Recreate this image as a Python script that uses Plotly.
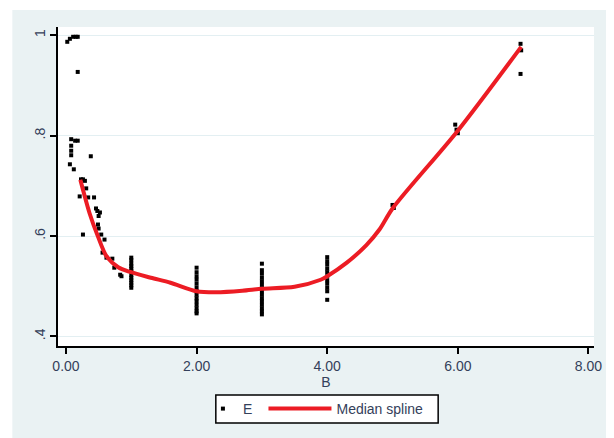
import plotly.graph_objects as go

# scatter data "E"
e_x = [0.02, 0.06, 0.11, 0.15, 0.18, 0.18,
       0.08, 0.14, 0.18, 0.08, 0.08, 0.08, 0.38, 0.06, 0.12,
       0.23, 0.26, 0.29, 0.31, 0.21, 0.34, 0.43,
       0.46, 0.48, 0.52, 0.50, 0.49, 0.50, 0.26, 0.54, 0.59,
       0.56, 0.62, 0.71, 0.74, 0.83, 0.85,
       1, 1, 1, 1, 1, 1, 1, 1, 1, 1, 1, 1,
       2, 2, 2, 2, 2, 2, 2, 2, 2, 2, 2, 2, 2, 2,
       3, 3, 3, 3, 3, 3, 3, 3, 3, 3, 3, 3, 3, 3, 3,
       4, 4, 4, 4, 4, 4, 4, 4, 4, 4, 4,
       5, 5.02,
       5.96, 5.98, 6.0,
       6.96, 6.97, 6.96]
e_y = [0.987, 0.993, 0.997, 0.997, 0.997, 0.927,
       0.793, 0.790, 0.790, 0.780, 0.770, 0.761, 0.759, 0.743, 0.733,
       0.713, 0.713, 0.710, 0.695, 0.679, 0.677, 0.677,
       0.655, 0.650, 0.647, 0.640, 0.623, 0.615, 0.603, 0.603, 0.593,
       0.567, 0.557, 0.555, 0.537, 0.523, 0.520,
       0.557, 0.552, 0.545, 0.540, 0.535, 0.530, 0.522, 0.517, 0.512, 0.507, 0.502, 0.497,
       0.537, 0.528, 0.520, 0.513, 0.505, 0.497, 0.490, 0.483, 0.476, 0.470, 0.463, 0.456, 0.450, 0.446,
       0.545, 0.532, 0.525, 0.517, 0.510, 0.503, 0.496, 0.490, 0.483, 0.476, 0.470, 0.463, 0.456, 0.450, 0.444,
       0.558, 0.550, 0.543, 0.535, 0.528, 0.520, 0.512, 0.505, 0.497, 0.490, 0.473,
       0.662, 0.656,
       0.822, 0.812, 0.805,
       0.983, 0.970, 0.923]

# median spline
spl_x = [0.22, 0.36, 0.49, 0.62, 0.80, 0.97, 1.3, 1.6, 2.0, 2.3, 2.7, 3.0, 3.5,
         3.9, 4.0, 4.3, 4.6, 4.8, 5.0, 6.0, 6.97]
spl_y = [0.712, 0.646, 0.599, 0.560, 0.538, 0.529, 0.517, 0.507, 0.490, 0.488, 0.491,
         0.495, 0.499, 0.513, 0.520, 0.547, 0.582, 0.613, 0.655, 0.810, 0.977]

x_ticks = [0, 2, 4, 6, 8]
x_ticktext = ["0.00", "2.00", "4.00", "6.00", "8.00"]
y_ticks = [0.4, 0.6, 0.8, 1.0]
y_ticktext = [".4", ".6", ".8", "1"]

# page body has an 8px margin, so the figure is 8px smaller and offset
OFF = 8
W, H = 614 - OFF, 438 - OFF
L, R, T, B = 58 - OFF, 16, 27 - OFF, 92
pw, ph = W - L - R, H - T - B


def px(xr):  # reference x pixel -> paper x
    return (xr - OFF - L) / pw


def py(yr):  # reference y pixel -> paper y
    return (H - B - (yr - OFF)) / ph


TXT = "#34405a"
FONT = "Arial, Liberation Sans, sans-serif"

fig = go.Figure()
fig.add_trace(go.Scatter(x=e_x, y=e_y, mode="markers", name="E", legend="legend",
                         marker=dict(symbol="square", size=4, color="black",
                                     line=dict(width=0))))
fig.add_trace(go.Scatter(x=spl_x, y=spl_y, mode="lines", name="Median spline",
                         legend="legend2",
                         line=dict(color="#ec1c24", width=4, shape="spline", smoothing=0.8)))

# white strips outside the light graph region (top and left)
fig.add_shape(type="rect", xref="paper", yref="paper",
              x0=px(0), x1=px(12), y0=py(440), y1=py(0),
              fillcolor="white", line=dict(width=0), layer="below")
fig.add_shape(type="rect", xref="paper", yref="paper",
              x0=px(0), x1=px(616), y0=py(10), y1=py(0),
              fillcolor="white", line=dict(width=0), layer="below")
# legend frame
fig.add_shape(type="rect", xref="paper", yref="paper",
              x0=px(217), x1=px(441), y0=py(423), y1=py(395),
              fillcolor="white", line=dict(width=1.5, color="black"), layer="below")

leg_common = dict(orientation="h", yanchor="middle", y=py(409), xanchor="left",
                  bgcolor="rgba(0,0,0,0)", borderwidth=0,
                  font=dict(size=14, color=TXT, family=FONT))

fig.update_layout(
    width=W, height=H,
    margin=dict(l=L, r=R, t=T, b=B),
    paper_bgcolor="#eaf2f3",
    plot_bgcolor="white",
    font=dict(family=FONT, size=14, color=TXT),
    showlegend=True,
    legend=dict(x=px(204), itemwidth=30, **leg_common),
    legend2=dict(x=px(265), itemwidth=63, **leg_common),
    xaxis=dict(range=[-0.122, 8.085], tickvals=x_ticks, ticktext=x_ticktext,
               showgrid=False, zeroline=False, showline=True, linecolor="black",
               linewidth=1.5, ticks="outside", ticklen=6, tickcolor="black",
               tickwidth=1.5, title=dict(text="B", standoff=2,
                                          font=dict(size=14, color=TXT))),
    yaxis=dict(range=[0.381, 1.0165], tickvals=y_ticks, ticktext=y_ticktext,
               showgrid=True, gridcolor="#e3eff2", gridwidth=1.2,
               zeroline=False, showline=True, linecolor="black", linewidth=1.5,
               ticks="outside", ticklen=6, tickcolor="black", tickwidth=1.5,
               tickangle=-90),
)

fig.write_html("out.html")
